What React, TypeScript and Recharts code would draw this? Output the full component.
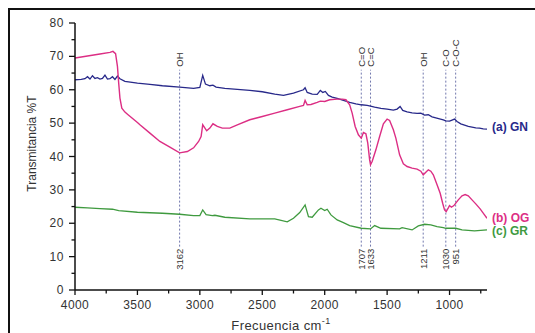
import React from 'react';
import { LineChart, Line, XAxis, YAxis, ReferenceLine, ReferenceDot, Label } from 'recharts';

// (a) GN
const gnWavenumber = [4000, 3950, 3920, 3900, 3880, 3860, 3840, 3820, 3800, 3780, 3760, 3740, 3720, 3700, 3680, 3660, 3640, 3600, 3500, 3400, 3300, 3162, 3050, 3000, 2977, 2955, 2920, 2895, 2870, 2800, 2700, 2600, 2500, 2400, 2330, 2250, 2170, 2157, 2140, 2100, 2060, 2035, 2015, 1995, 1970, 1940, 1900, 1850, 1800, 1750, 1707, 1660, 1633, 1600, 1550, 1500, 1450, 1420, 1396, 1375, 1340, 1300, 1260, 1230, 1200, 1170, 1140, 1110, 1080, 1050, 1030, 1000, 980, 960, 940, 910, 880, 850, 820, 790, 760, 730, 700];
const gnTransmittance = [63.0, 63.1, 63.3, 63.9, 63.2, 64.2, 63.4, 63.6, 63.2, 63.4, 64.4, 63.2, 63.3, 63.9, 63.1, 64.1, 63.3, 62.5, 62.0, 61.6, 61.2, 60.8, 60.4, 60.7, 64.3, 61.7, 61.2, 61.4, 60.8, 60.4, 60.1, 59.8, 59.4, 58.7, 58.3, 59.0, 60.0, 60.6, 59.2, 58.7, 58.6, 59.8, 59.2, 59.5, 58.3, 57.8, 57.4, 56.8, 56.2, 55.8, 55.5, 55.3, 55.1, 54.8, 54.4, 54.2, 53.9, 54.2, 55.0, 53.8, 53.4, 53.1, 52.9, 53.0, 52.4, 52.5, 51.9, 51.6, 51.3, 51.0, 50.7, 50.6, 50.9, 51.2, 50.5, 49.8, 49.4, 49.0, 48.8, 48.6, 48.5, 48.3, 48.2];

// (b) OG
const ogWavenumber = [4000, 3900, 3800, 3720, 3696, 3675, 3660, 3650, 3640, 3625, 3600, 3575, 3500, 3480, 3400, 3320, 3240, 3162, 3100, 3050, 3010, 2990, 2977, 2945, 2920, 2895, 2860, 2820, 2760, 2700, 2600, 2500, 2400, 2300, 2200, 2170, 2157, 2140, 2110, 2060, 2035, 2000, 1960, 1900, 1860, 1830, 1800, 1780, 1756, 1730, 1707, 1690, 1670, 1655, 1640, 1633, 1620, 1590, 1560, 1530, 1500, 1480, 1450, 1430, 1400, 1370, 1340, 1300, 1260, 1230, 1211, 1190, 1170, 1150, 1130, 1100, 1075, 1055, 1040, 1027, 1010, 1000, 985, 965, 930, 900, 875, 850, 820, 790, 755, 720, 700];
const ogTransmittance = [69.5, 70.1, 70.7, 71.2, 71.5, 70.8, 67.0, 62.0, 57.5, 54.5, 53.3, 52.5, 50.2, 49.5, 47.0, 44.5, 42.8, 41.1, 41.5, 42.6, 44.5, 46.0, 49.5, 47.7, 48.5, 49.8, 49.0, 48.5, 48.5, 49.5, 51.0, 52.0, 53.0, 54.0, 55.0, 55.3, 56.8, 55.5, 55.6, 56.2, 56.6, 56.5, 57.0, 57.2, 57.2, 57.0, 55.5, 53.0, 49.0, 46.5, 45.5, 47.2, 46.8, 44.0, 39.0, 37.5, 38.5, 42.0, 46.0, 49.8, 51.2, 50.8, 48.0, 45.5, 40.5, 37.8, 37.0, 36.5, 36.2, 35.6, 34.5, 35.3, 36.0, 35.6, 34.5, 31.5, 29.0, 26.0, 24.0, 23.5, 24.6, 25.3, 24.8, 25.3, 27.0, 28.2, 28.6, 28.2, 27.0, 25.8, 24.3, 22.5, 21.5];

// (c) GR
const grWavenumber = [4000, 3900, 3800, 3700, 3650, 3500, 3300, 3162, 3050, 3000, 2977, 2950, 2900, 2880, 2800, 2600, 2400, 2300, 2250, 2200, 2157, 2130, 2100, 2050, 2030, 2000, 1980, 1950, 1900, 1850, 1800, 1707, 1633, 1600, 1550, 1400, 1380, 1300, 1250, 1200, 1150, 1100, 1050, 1030, 950, 900, 800, 700];
const grTransmittance = [24.8, 24.6, 24.4, 24.2, 23.8, 23.3, 23.0, 22.7, 22.3, 22.3, 24.0, 22.6, 22.3, 22.4, 21.8, 21.3, 21.3, 20.4, 21.5, 23.2, 25.5, 22.0, 21.8, 24.0, 24.5, 23.8, 24.2, 22.5, 21.0, 20.2, 19.3, 18.5, 18.3, 19.3, 18.5, 18.3, 18.7, 18.0, 19.2, 19.7, 19.5, 19.0, 18.7, 18.5, 18.5, 18.0, 17.7, 18.0];

const peakWavenumbers = [3162, 1707, 1633, 1211, 1030, 951];
const peakGroups = ['OH', 'C=O', 'C=C', 'OH', 'C-O', 'C-O-C'];

const xTicks = [4000, 3750, 3500, 3250, 3000, 2750, 2500, 2250, 2000, 1750, 1500, 1250, 1000, 750];
const yTicks = [0, 5, 10, 15, 20, 25, 30, 35, 40, 45, 50, 55, 60, 65, 70, 75, 80];

const seriesNames = ['(a) GN', '(b) OG', '(c) GR'];
const seriesLabelY = [49, 21.8, 17.7];

const toPoints = (xs: number[], ys: number[]) => xs.map((x, i) => ({ x, y: ys[i] }));
const gnData = toPoints(gnWavenumber, gnTransmittance);
const ogData = toPoints(ogWavenumber, ogTransmittance);
const grData = toPoints(grWavenumber, grTransmittance);

const BLUE = '#28298a';
const PINK = '#dc2e84';
const GREEN = '#3f9a3f';
const COLORS = [BLUE, PINK, GREEN];
const FONT = '"Liberation Sans", Arial, sans-serif';

const XTick = (props: any) => {
  const { x, y, payload } = props;
  const v = payload.value;
  const major = v % 500 === 0;
  return (
    <g>
      <line x1={x} y1={y} x2={x} y2={y + (major ? 5 : 3.5)} stroke="#111" strokeWidth={1.3} />
      {major && (
        <text x={x} y={y + 18.5} textAnchor="middle" fontSize={12} fontFamily={FONT} fill="#333" letterSpacing={0.4}>
          {v}
        </text>
      )}
    </g>
  );
};

const YTick = (props: any) => {
  const { x, y, payload } = props;
  const v = payload.value;
  const major = v % 10 === 0;
  return (
    <g>
      <line x1={x} y1={y} x2={x - (major ? 6 : 3.5)} y2={y} stroke="#111" strokeWidth={1.3} />
      {major && (
        <text x={x - 11} y={y} textAnchor="end" dominantBaseline="central" fontSize={12} fontFamily={FONT} fill="#333" letterSpacing={0.6}>
          {v}
        </text>
      )}
    </g>
  );
};

const XLabel = (props: any) => {
  const vb = props.viewBox || props;
  const cx = vb.x + vb.width / 2;
  return (
    <text x={cx} y={vb.y + 40} textAnchor="middle" fontSize={13} fontFamily={FONT} fill="#333" letterSpacing={0.4}>
      Frecuencia cm
      <tspan fontSize={9} dy={-6}>-1</tspan>
    </text>
  );
};

const YLabel = (props: any) => {
  const vb = props.viewBox || props;
  const x = vb.x + 17;
  const y = vb.y + vb.height / 2 - 13;
  return (
    <text x={x} y={y} transform={`rotate(-90 ${x} ${y})`} textAnchor="middle" dominantBaseline="central" fontSize={12} fontFamily={FONT} fill="#333">
      Transmitancia %T
    </text>
  );
};

const makePeakLabel = (group: string, num: number) => (props: any) => {
  const vb = props.viewBox || props;
  const x = vb.x;
  const top = vb.y - 3;
  const bottom = vb.y + vb.height + 2;
  return (
    <g>
      <text x={x} y={top} transform={`rotate(-90 ${x} ${top})`} textAnchor="start" dominantBaseline="central" fontSize={9.5} fontFamily={FONT} fill="#333">
        {group}
      </text>
      <text x={x} y={bottom} transform={`rotate(-90 ${x} ${bottom})`} textAnchor="end" dominantBaseline="central" fontSize={9.5} fontFamily={FONT} fill="#333">
        {num}
      </text>
    </g>
  );
};

export default function App() {
  return (
    <div
      style={{
        position: 'fixed',
        left: 8,
        top: 8,
        width: 527,
        height: 325,
        boxSizing: 'border-box',
        borderTop: '2px solid #111',
        borderLeft: '2px solid #111',
        background: '#fff',
      }}
    >
      <LineChart width={525} height={323} margin={{ top: 13, right: 48, left: 5, bottom: 0 }}>
        <XAxis
          type="number"
          dataKey="x"
          domain={[700, 4000]}
          reversed
          ticks={xTicks}
          interval={0}
          tickSize={0}
          tickMargin={0}
          tickLine={false}
          tick={<XTick />}
          axisLine={{ stroke: '#111', strokeWidth: 1.5 }}
          height={43}
          allowDataOverflow
        >
          <Label content={XLabel} />
        </XAxis>
        <YAxis
          type="number"
          domain={[0, 80]}
          ticks={yTicks}
          interval={0}
          tickSize={0}
          tickMargin={0}
          tickLine={false}
          tick={<YTick />}
          axisLine={{ stroke: '#111', strokeWidth: 1.5 }}
          width={60}
          allowDataOverflow
        >
          <Label content={YLabel} />
        </YAxis>
        {peakWavenumbers.map((w, i) => (
          <ReferenceLine
            key={`peak-${i}`}
            segment={[{ x: w, y: 13 }, { x: w, y: 66 }]}
            stroke="#7177ad"
            strokeWidth={1}
            strokeDasharray="2 2"
            label={makePeakLabel(peakGroups[i], w)}
          />
        ))}
        <Line data={gnData} dataKey="y" type="linear" stroke={BLUE} strokeWidth={1.3} dot={false} isAnimationActive={false} />
        <Line data={ogData} dataKey="y" type="linear" stroke={PINK} strokeWidth={1.4} dot={false} isAnimationActive={false} />
        <Line data={grData} dataKey="y" type="linear" stroke={GREEN} strokeWidth={1.3} dot={false} isAnimationActive={false} />
        {seriesNames.map((name, i) => (
          <ReferenceDot
            key={`name-${i}`}
            x={700}
            y={seriesLabelY[i]}
            r={0}
            fill="none"
            stroke="none"
            label={{ value: name, position: 'right', offset: 5, fill: COLORS[i], fontSize: 12, fontWeight: 'bold', fontFamily: FONT }}
          />
        ))}
      </LineChart>
    </div>
  );
}
